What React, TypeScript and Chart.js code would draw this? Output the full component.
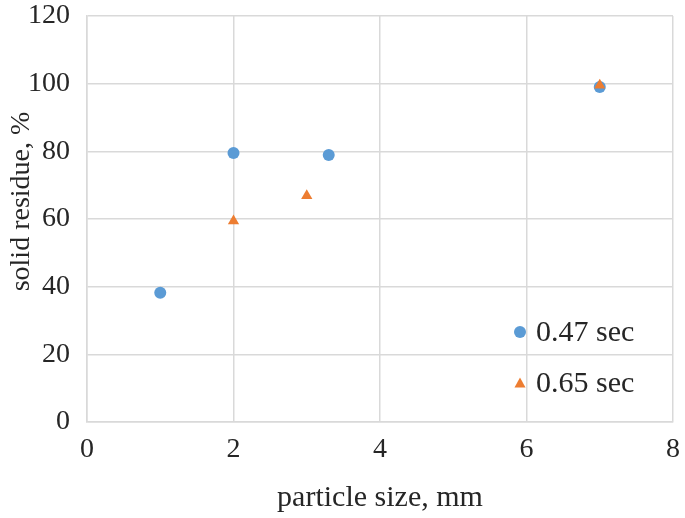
import React, { useEffect, useRef } from "react";
import { Chart, registerables } from "chart.js";

Chart.register(...registerables);

const series1Label = "0.47 sec";
const series1X = [1, 2, 3.3, 7];
const series1Y = [38.2, 79.5, 78.9, 99.0];

const series2Label = "0.65 sec";
const series2X = [2, 3, 7];
const series2Y = [59.4, 66.9, 99.5];

const xTitle = "particle size, mm";
const yTitle = "solid residue, %";

const FONT = "'Liberation Serif', 'DejaVu Serif', serif";
const BLUE = "#5b9bd5";
const ORANGE = "#ed7d31";
const GRID = "#d9d9d9";
const TEXT = "#262626";

const insideLegend = {
  id: "insideLegend",
  afterDraw(chart: any) {
    const ctx = chart.ctx;
    const items = chart.data.datasets.map((d: any) => ({
      label: d.label,
      style: d.pointStyle,
      color: d.backgroundColor,
    }));
    const markerX = 520;
    const textX = 536;
    const startY = 332;
    const gap = 51;
    ctx.save();
    ctx.font = `30px ${FONT}`;
    ctx.textBaseline = "middle";
    ctx.textAlign = "left";
    items.forEach((it: any, i: number) => {
      const y = startY + i * gap;
      ctx.fillStyle = it.color;
      if (it.style === "triangle") {
        const r = 5.5;
        ctx.beginPath();
        ctx.moveTo(markerX, y - r);
        ctx.lineTo(markerX + r, y + r * 0.8);
        ctx.lineTo(markerX - r, y + r * 0.8);
        ctx.closePath();
        ctx.fill();
      } else {
        ctx.beginPath();
        ctx.arc(markerX, y, 6, 0, Math.PI * 2);
        ctx.fill();
      }
      ctx.fillStyle = TEXT;
      ctx.fillText(it.label, textX, y + 1);
    });
    ctx.restore();
  },
};

export default function App() {
  const ref = useRef<HTMLCanvasElement | null>(null);
  useEffect(() => {
    if (!ref.current) return;
    const chart = new Chart(ref.current, {
      type: "scatter",
      data: {
        datasets: [
          {
            label: series1Label,
            data: series1X.map((x, i) => ({ x, y: series1Y[i] })),
            pointStyle: "circle",
            pointRadius: 6,
            backgroundColor: BLUE,
            borderColor: BLUE,
            borderWidth: 0,
            order: 1,
          },
          {
            label: series2Label,
            data: series2X.map((x, i) => ({ x, y: series2Y[i] })),
            pointStyle: "triangle",
            pointRadius: 6.5,
            backgroundColor: ORANGE,
            borderColor: ORANGE,
            borderWidth: 0,
            order: 0,
          },
        ],
      },
      options: {
        animation: false,
        responsive: false,
        maintainAspectRatio: false,
        layout: { padding: { top: 16, right: 12, left: 0, bottom: 0 } },
        plugins: {
          legend: { display: false },
          tooltip: { enabled: false },
        },
        scales: {
          x: {
            type: "linear",
            min: 0,
            max: 8,
            ticks: {
              stepSize: 2,
              color: TEXT,
              font: { family: FONT, size: 28 },
              padding: 11,
            },
            grid: { color: GRID, lineWidth: 1.5, drawTicks: false },
            border: { color: GRID, width: 1.5 },
            title: {
              display: true,
              text: xTitle,
              color: TEXT,
              font: { family: FONT, size: 30 },
              padding: { top: 0, bottom: 2 },
            },
            afterFit: (s: any) => {
              s.height = 96;
              s.paddingLeft = 0;
              s.paddingRight = 0;
            },
          },
          y: {
            type: "linear",
            min: 0,
            max: 120,
            ticks: {
              stepSize: 20,
              color: TEXT,
              font: { family: FONT, size: 28 },
              padding: 17,
            },
            grid: { color: GRID, lineWidth: 1.5, drawTicks: false },
            border: { color: GRID, width: 1.5 },
            title: {
              display: true,
              text: "     " + yTitle,
              color: TEXT,
              font: { family: FONT, size: 28 },
              padding: { top: 5, bottom: 0 },
            },
            afterFit: (s: any) => {
              s.width = 87;
              s.paddingTop = 0;
              s.paddingBottom = 0;
            },
          },
        },
      },
      plugins: [insideLegend],
    });
    return () => chart.destroy();
  }, []);
  return (
    <div style={{ position: "fixed", left: 0, top: 0, width: 685, height: 518, background: "#fff" }}>
      <canvas ref={ref} width={685} height={518} style={{ width: 685, height: 518 }} />
    </div>
  );
}
